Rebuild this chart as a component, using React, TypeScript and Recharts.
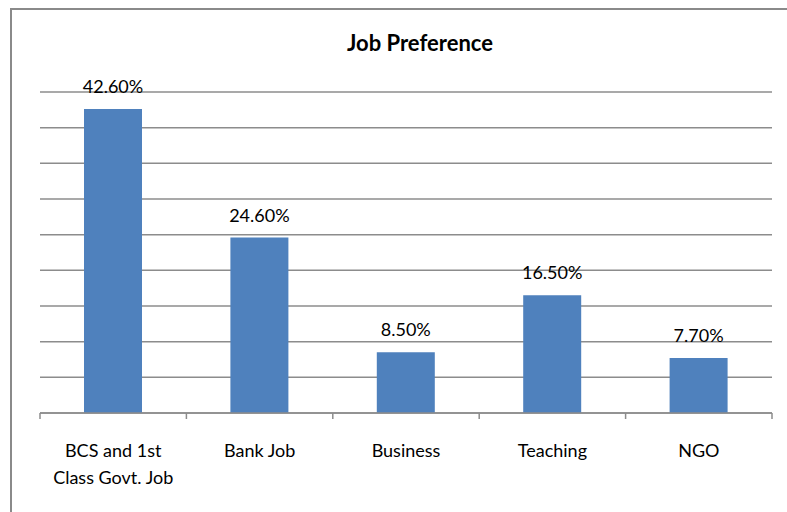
import React from 'react';
import { BarChart, Bar, XAxis, YAxis, CartesianGrid, LabelList } from 'recharts';

const categories = ['BCS and 1st\nClass Govt. Job', 'Bank Job', 'Business', 'Teaching', 'NGO'];
const values = [42.6, 24.6, 8.5, 16.5, 7.7];
const yTicks = [0, 5, 10, 15, 20, 25, 30, 35, 40, 45];

const data = categories.map((c, i) => ({ name: c, value: values[i] }));

const FONT = 'Lato, "Open Sans", sans-serif';

const Tick = (props: any) => {
  const { x, y, payload, index, visibleTicksCount } = props;
  const off = payload && typeof payload.offset === 'number' ? payload.offset : 73.2;
  const lines = String(payload.value).split('\n');
  const axisY = y - 6;
  const isLast = index === (visibleTicksCount ?? categories.length) - 1;
  return (
    <g>
      <line x1={x - off} x2={x - off} y1={axisY} y2={axisY + 6} stroke="#8c8c8c" strokeWidth={1.5} />
      {isLast && <line x1={x + off} x2={x + off} y1={axisY} y2={axisY + 6} stroke="#8c8c8c" strokeWidth={1.5} />}
      <text x={x} y={y} textAnchor="middle" fontFamily={FONT} fontSize={18} fill="#000">
        {lines.map((l, i) => (
          <tspan key={i} x={x} dy={i === 0 ? 38 : 27}>{l}</tspan>
        ))}
      </text>
    </g>
  );
};

export default function App() {
  return (
    <div style={{ position: 'absolute', left: 0, top: 0, width: 787, height: 512, overflow: 'hidden', background: '#fff' }}>
      <div style={{ position: 'absolute', left: 10, top: 8, width: 900, height: 700, border: '2px solid #8a8a8a' }} />
      <div style={{ position: 'absolute', left: 0, top: 0 }}>
        <BarChart width={787} height={512} data={data} margin={{ top: 92, right: 15, bottom: 39, left: 40 }} barCategoryGap={44}>
          <text x={420} y={51} textAnchor="middle" fontFamily={FONT} fontSize={22} fontWeight="bold" fill="#000">Job Preference</text>
          <CartesianGrid vertical={false} stroke="#8c8c8c" strokeWidth={1.5} />
          <YAxis hide domain={[0, 45]} ticks={yTicks} />
          <XAxis dataKey="name" height={60} axisLine={{ stroke: '#8c8c8c', strokeWidth: 1.5 }} tickLine={false} tick={<Tick />} interval={0} tickMargin={0} />
          <Bar dataKey="value" fill="#4F81BD" isAnimationActive={false}>
            <LabelList dataKey="value" position="top" offset={16} formatter={(v: any) => Number(v).toFixed(2) + '%'} style={{ fontFamily: FONT, fontSize: 18, fill: '#000' }} />
          </Bar>
        </BarChart>
      </div>
    </div>
  );
}
